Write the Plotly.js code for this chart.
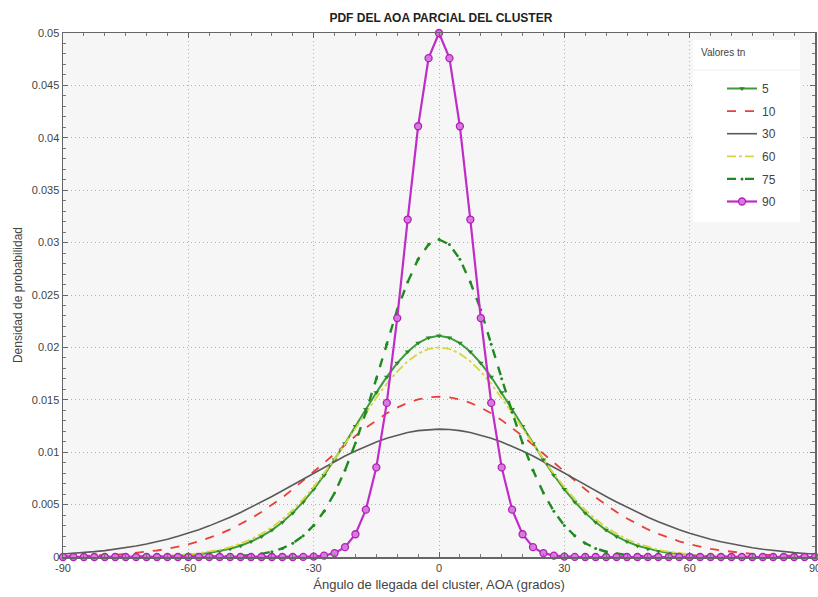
<!DOCTYPE html>
<html>
<head>
<meta charset="utf-8">
<script src="https://cdn.plot.ly/plotly-3.0.1.min.js"></script>
<style>html,body{margin:0;padding:0;background:#fff;}#chart{width:818px;height:597px;}</style>
</head>
<body>
<div id="chart"></div>
<script>
// AOA grid (degrees)
const aoa = [-90,-87.5,-85,-82.5,-80,-77.5,-75,-72.5,-70,-67.5,-65,-62.5,-60,-57.5,-55,-52.5,-50,-47.5,-45,-42.5,-40,-37.5,-35,-32.5,-30,-27.5,-25,-22.5,-20,-17.5,-15,-12.5,-10,-7.5,-5,-2.5,0,2.5,5,7.5,10,12.5,15,17.5,20,22.5,25,27.5,30,32.5,35,37.5,40,42.5,45,47.5,50,52.5,55,57.5,60,62.5,65,67.5,70,72.5,75,77.5,80,82.5,85,87.5,90];

const seriesNames = ["5","10","30","60","75","90"];

const tn5 = [0,0,0,0,0,0,0.00001,0.00002,0.00003,0.00005,0.00008,0.00012,0.00019,0.00027,0.00039,0.00056,0.00079,0.00108,0.00147,0.00196,0.00257,0.00332,0.00421,0.00526,0.00646,0.0078,0.00927,0.01084,0.01247,0.0141,0.01569,0.01718,0.0185,0.01959,0.02042,0.02093,
 0.0211,
 0.02093,0.02042,0.01959,0.0185,0.01718,0.01569,0.0141,0.01247,0.01084,0.00927,0.0078,0.00646,0.00526,0.00421,0.00332,0.00257,0.00196,0.00147,0.00108,0.00079,0.00056,0.00039,0.00027,0.00019,0.00012,0.00008,0.00005,0.00003,0.00002,0.00001,0,0,0,0,0,0];

const tn10 = [0.00005,0.00007,0.00009,0.00013,0.00017,0.00022,0.00029,0.00038,0.00049,0.00062,0.00078,0.00098,0.00121,0.00149,0.00182,0.0022,0.00263,0.00312,0.00368,0.00429,0.00496,0.00568,0.00646,0.00727,0.00812,0.00898,0.00985,0.01071,0.01154,0.01233,0.01306,0.01371,0.01426,0.01471,0.01503,0.01523,
 0.0153,
 0.01523,0.01503,0.01471,0.01426,0.01371,0.01306,0.01233,0.01154,0.01071,0.00985,0.00898,0.00812,0.00727,0.00646,0.00568,0.00496,0.00429,0.00368,0.00312,0.00263,0.0022,0.00182,0.00149,0.00121,0.00098,0.00078,0.00062,0.00049,0.00038,0.00029,0.00022,0.00017,0.00013,0.00009,0.00007,0.00005];

const tn30 = [0.00028,0.00034,0.00042,0.00051,0.00061,0.00074,0.00088,0.00105,0.00124,0.00145,0.00169,0.00197,0.00227,0.0026,0.00297,0.00337,0.00379,0.00425,0.00474,0.00525,0.00578,0.00632,0.00688,0.00745,0.00801,0.00857,0.00911,0.00963,0.01012,0.01057,0.01098,0.01134,0.01164,0.01188,0.01206,0.01216,
 0.0122,
 0.01216,0.01206,0.01188,0.01164,0.01134,0.01098,0.01057,0.01012,0.00963,0.00911,0.00857,0.00801,0.00745,0.00688,0.00632,0.00578,0.00525,0.00474,0.00425,0.00379,0.00337,0.00297,0.0026,0.00227,0.00197,0.00169,0.00145,0.00124,0.00105,0.00088,0.00074,0.00061,0.00051,0.00042,0.00034,0.00028];

const tn60 = [0,0,0,0,0,0.00001,0.00002,0.00003,0.00005,0.00008,0.00012,0.00017,0.00025,0.00035,0.0005,0.00069,0.00095,0.00128,0.00169,0.00221,0.00284,0.0036,0.00449,0.00552,0.00667,0.00795,0.00933,0.01079,0.01228,0.01377,0.0152,0.01653,0.0177,0.01867,0.0194,0.01985,
 0.02,
 0.01985,0.0194,0.01867,0.0177,0.01653,0.0152,0.01377,0.01228,0.01079,0.00933,0.00795,0.00667,0.00552,0.00449,0.0036,0.00284,0.00221,0.00169,0.00128,0.00095,0.00069,0.0005,0.00035,0.00025,0.00017,0.00012,0.00008,0.00005,0.00003,0.00002,0.00001,0,0,0,0,0];

const tn75 = [0,0,0,0,0,0,0,0,0,0,0,0,0,0,0.00001,0.00003,0.00005,0.00009,0.00017,0.0003,0.0005,0.00082,0.00131,0.00202,0.00301,0.00436,0.0061,0.00827,0.01087,0.01382,0.01702,0.0203,0.0236,0.02623,0.02842,0.02982,
 0.0303,
 0.02982,0.02842,0.02623,0.0236,0.0203,0.01702,0.01382,0.01087,0.00827,0.0061,0.00436,0.00301,0.00202,0.00131,0.00082,0.0005,0.0003,0.00017,0.00009,0.00005,0.00003,0.00001,0,0,0,0,0,0,0,0,0,0,0,0,0,0];

const tn90 = [0,0,0,0,0,0,0,0,0,0,0,0,0,0,0,0,0,0,0,0,0,0,0,0.00001,0.00004,0.00013,0.00037,0.00094,0.00217,0.00452,0.00855,0.0147,0.0228,0.0322,0.0411,0.0476,
 0.05,
 0.0476,0.0411,0.0322,0.0228,0.0147,0.00855,0.00452,0.00217,0.00094,0.00037,0.00013,0.00004,0.00001,0,0,0,0,0,0,0,0,0,0,0,0,0,0,0,0,0,0,0,0,0,0,0];

const xTicks = [-90,-60,-30,0,30,60,90];
const yTicks = [0,0.005,0.01,0.015,0.02,0.025,0.03,0.035,0.04,0.045,0.05];
const yTickText = ["0","0.005","0.01","0.015","0.02","0.025","0.03","0.035","0.04","0.045","0.05"];

const values = [tn5, tn10, tn30, tn60, tn75, tn90];
const styles = [
  {line:{color:'#3c9c3c', width:2, dash:'solid'}, mode:'lines+markers', marker:{symbol:'triangle-down', size:5, color:'#2a8a2a'}},
  {line:{color:'#e8403a', width:1.8, dash:'dash'}, mode:'lines'},
  {line:{color:'#5a5a5a', width:1.6, dash:'solid'}, mode:'lines'},
  {line:{color:'#d6d640', width:1.8, dash:'dashdot'}, mode:'lines'},
  {line:{color:'#1f8a1f', width:2.4, dash:'dash'}, mode:'lines+markers', marker:{symbol:'circle', size:3, color:'#1f8a1f'}},
  {line:{color:'#c02cc8', width:2.2, dash:'solid'}, mode:'lines+markers', marker:{symbol:'circle', size:7, color:'#d67bdc', line:{color:'#b020b8', width:1.3}}}
];

const traces = values.map((v, i) => Object.assign({
  type:'scatter', x: aoa, y: v, name: seriesNames[i], cliponaxis:false, legendgroup:'g'+i
}, styles[i]));

const axisFont = {family:'Liberation Sans Narrow, Liberation Sans, Arial, sans-serif', size:11, color:'#444'};
const gridDash = '1px,3px';

const layout = {
  width:818, height:597,
  margin:{l:63, r:3, t:33, b:40},
  paper_bgcolor:'#ffffff',
  plot_bgcolor:'#f6f6f6',
  title:{text:'<b>PDF DEL AOA PARCIAL DEL CLUSTER</b>', x:0.539, xanchor:'center', y:0.978, yanchor:'top', font:{family:'Liberation Sans, Arial, sans-serif', size:12, color:'#222'}},
  xaxis:{
    range:[-90,90], tickvals:xTicks, ticktext:xTicks.map(String),
    showgrid:true, gridcolor:'#b0b0b0', griddash:gridDash, gridwidth:1,
    zeroline:false, showline:true, linecolor:'#666', linewidth:1.5, mirror:'allticks',
    ticks:'inside', ticklen:5, tickcolor:'#666', ticklabeloverflow:'allow',
    minor:{dtick:5, ticks:'inside', ticklen:3, tickcolor:'#777', showgrid:false},
    tickfont:axisFont,
    title:{text:'Ángulo de llegada del cluster, AOA (grados)', standoff:7, font:{family:'Liberation Sans, Arial, sans-serif', size:13, color:'#444'}}
  },
  yaxis:{
    range:[0,0.05], tickvals:yTicks, ticktext:yTickText,
    showgrid:true, gridcolor:'#b0b0b0', griddash:gridDash, gridwidth:1,
    zeroline:false, showline:true, linecolor:'#666', linewidth:1.5, mirror:'allticks',
    ticks:'inside', ticklen:5, tickcolor:'#666',
    minor:{dtick:0.001, ticks:'inside', ticklen:3, tickcolor:'#777', showgrid:false},
    tickfont:axisFont,
    title:{text:'Densidad de probabilidad', standoff:6, font:{family:'Liberation Sans, Arial, sans-serif', size:12, color:'#444'}}
  },
  shapes:[
    {type:'rect', xref:'paper', yref:'paper', x0:(693-63)/752, x1:(800-63)/752, y0:(557-222)/524, y1:(557-40)/524,
     fillcolor:'#ffffff', line:{width:0}, layer:'above'},
    {type:'line', xref:'paper', yref:'paper', x0:(693-63)/752, x1:(800-63)/752, y0:(557-70)/524, y1:(557-70)/524,
     line:{width:1, color:'#f0f0f0'}, layer:'above'}
  ],
  annotations:[
    {text:'Valores tn', xref:'paper', yref:'paper', x:(699-63)/752, y:(557-53)/524, xanchor:'left', yanchor:'middle', showarrow:false,
     font:{family:'Liberation Sans Narrow, Liberation Sans, Arial, sans-serif', size:10, color:'#444'}}
  ],
  showlegend:true,
  legend:{
    x:(722-63)/752, xanchor:'left', y:(557-74)/524, yanchor:'top',
    bgcolor:'rgba(0,0,0,0)', borderwidth:0,
    font:{family:'Liberation Sans Narrow, Liberation Sans, Arial, sans-serif', size:12, color:'#444'},
    tracegroupgap:3.6
  }
};

Plotly.newPlot('chart', traces, layout, {displayModeBar:false, staticPlot:true});
</script>
</body>
</html>
